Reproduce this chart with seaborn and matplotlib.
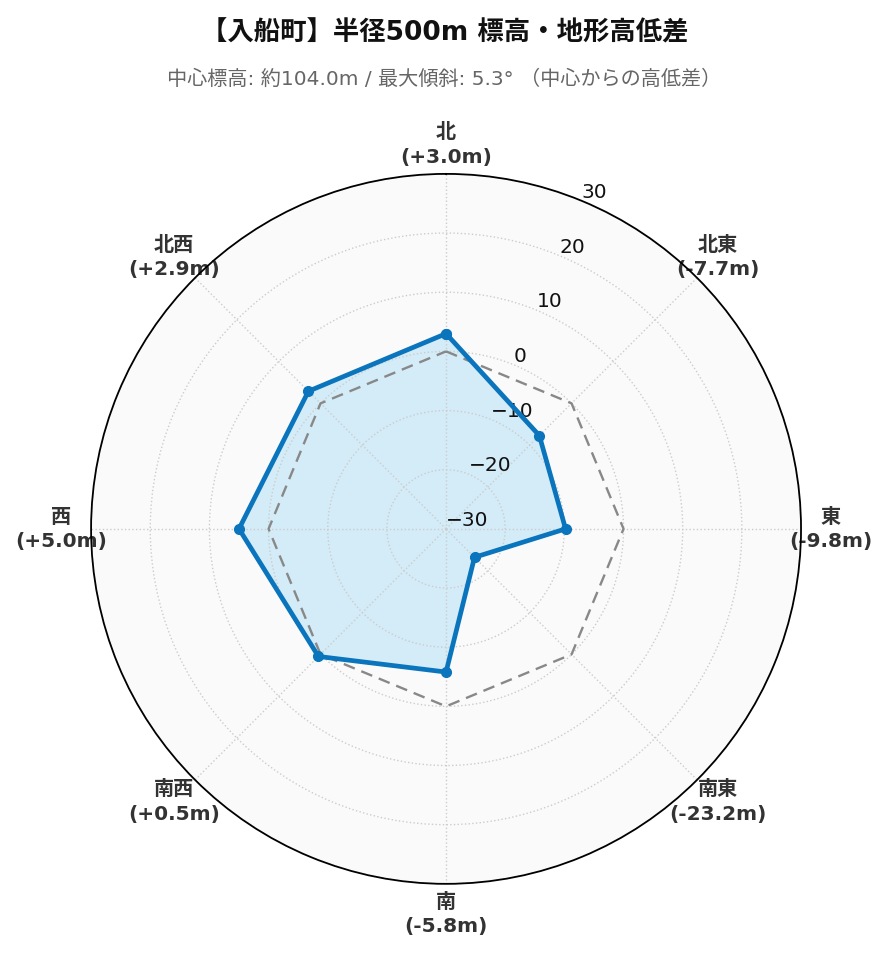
import matplotlib.pyplot as plt
import numpy as np
import seaborn as sns

sns.set_theme(style="white")
plt.rcParams['font.family'] = ['DejaVu Sans', 'Noto Sans CJK JP']
plt.rcParams['axes.unicode_minus'] = True

# data
directions = ['北', '北東', '東', '南東', '南', '南西', '西', '北西']
diffs = [3.0, -7.7, -9.8, -23.2, -5.8, 0.5, 5.0, 2.9]
r_ticks = [-30, -20, -10, 0, 10, 20, 30]

title = '【入船町】半径500m 標高・地形高低差'
subtitle = '中心標高: 約104.0m / 最大傾斜: 5.3° （中心からの高低差）'

line_color = '#0a74bc'
fill_color = '#d3ecf8'

angles = np.deg2rad(np.arange(len(directions)) * 45)
ang_c = np.append(angles, angles[0])
vals_c = np.append(diffs, diffs[0])

fig = plt.figure(figsize=(8.89, 9.62), dpi=100)
ax = fig.add_axes([0.1024, 0.0802, 0.7987, 0.7380], projection='polar')
ax.set_theta_zero_location('N')
ax.set_theta_direction(-1)
ax.set_facecolor('#fafafa')
ax.set_axisbelow(False)
ax.set_ylim(-30, 30)

# zero reference
ax.fill(ang_c, vals_c, color=fill_color, alpha=1.0, zorder=2)
ax.plot(ang_c, np.zeros_like(ang_c), color='#888888', lw=1.7, ls=(0, (5, 3)), zorder=3)
ax.plot(ang_c, vals_c, color=line_color, lw=3.4, marker='o', ms=7, zorder=4)

labels = [f'{d}\n({v:+.1f}m)' for d, v in zip(directions, diffs)]
ax.set_xticks(angles)
ax.set_xticklabels(labels, fontsize=14.5, fontweight='bold', color='#333333',
                   linespacing=1.35)
ax.tick_params(axis='x', pad=8.5)
ax.set_yticks(r_ticks)
ax.set_yticklabels([f'{t:d}'.replace('-', '\u2212') for t in r_ticks], fontsize=14.5, color='#111111')
ax.set_rlabel_position(22.5)
ax.grid(True, color='#cccccc', ls=':', lw=1.0)
ax.spines['polar'].set_color('black')
ax.spines['polar'].set_linewidth(1.3)
ax.spines['polar'].set_zorder(6)

fig.text(0.5, 0.965, title, ha='center', va='center', fontsize=19, fontweight='bold',
         color='#111111')
fig.text(0.5, 0.918, subtitle, ha='center', va='center', fontsize=14.5,
         color='#666666')

fig.savefig('out.png', dpi=100, facecolor='white')
